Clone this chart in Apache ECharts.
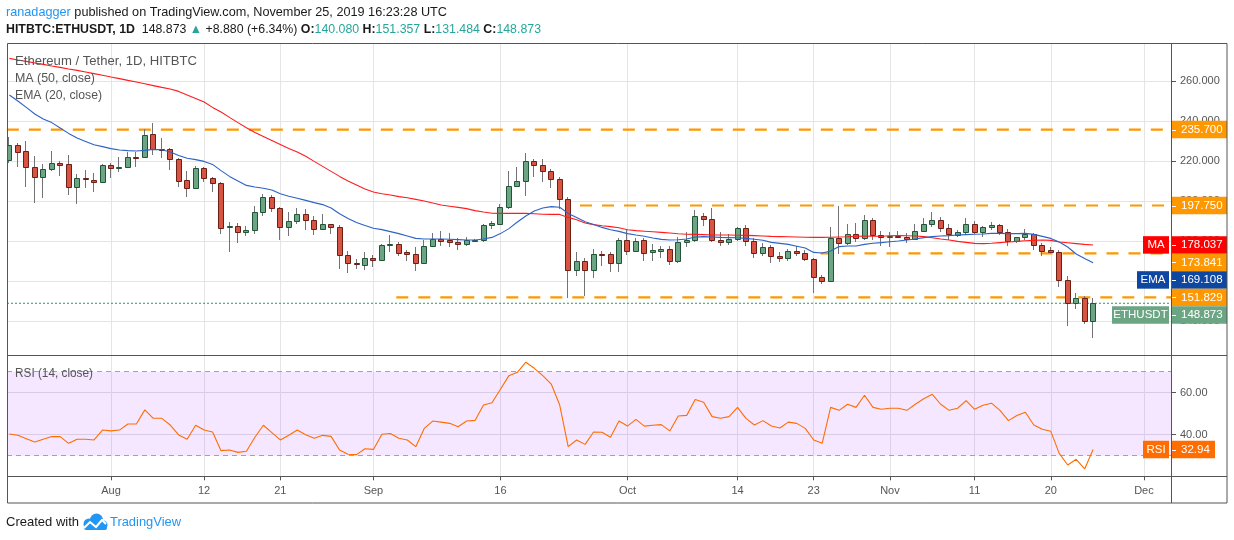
<!DOCTYPE html>
<html><head><meta charset="utf-8">
<script src="https://cdn.jsdelivr.net/npm/echarts@6/dist/echarts.min.js"></script>
<style>html,body{margin:0;padding:0;background:#fff}#c{width:1234px;height:540px}</style>
</head><body><div id="c"></div>
<script>
// ---------------- data ----------------
const startDate = '2019-07-20';
const opens = [220.5,228,225,217.2,212.2,215.8,218.8,218.3,207,211.5,
 210.3,209.3,218,216.3,217.2,222.2,221.8,233.3,226.2,225.8,
 220.8,210.3,206.3,216.3,211.3,208.8,186.8,187.7,184.7,185.3,
 194.3,201.8,196.3,186.8,189.8,193.3,190.3,185.8,188.3,186.8,
 172.8,169,167.8,171.3,170.3,177.8,178.5,174.3,173.3,168.8,
 177.3,180.8,180.3,179.3,178.3,180,180.5,187.8,188.7,196.8,
 207.3,210,220,217.8,214.8,210.8,200.8,165.3,169.8,165.3,
 173.7,173.3,168.8,180.5,175.2,180.5,174.3,175.2,176,170,
 179.3,180.5,192.3,191,180.3,179.3,181,186.3,180,173.8,
 176.8,172.3,171.3,174.8,173.8,170.8,161.8,159.8,181.3,178.8,
 183.3,181.3,190.3,183,182,182.7,182.2,181.2,185.2,188.3,
 190.3,186.3,183.2,184.3,188.3,184.3,186.8,187.8,184.3,179.8,
 181.8,183.3,177.8,175.5,174.3,160.3,148.8,151.3,140.08];
const highs = [232,228.9,230,222.3,218.3,225,220,223,213.3,215.5,
 213.8,218.5,219.2,222.2,224.7,224.7,236,238.8,231.3,226.7,
 221.7,215,217.5,217.2,212.2,209.7,189.3,188.8,187.7,197.7,
 203.5,203,197.2,194.7,196.3,195.8,192.7,193.5,188.5,188,
 175,170.8,174.3,173,178.3,183,179.7,175.3,177.2,180.3,
 184,185.2,184.2,181.3,181.8,180.8,188.3,190.2,198.3,215,
 217.2,224.2,221,221,216,212,202.2,174.5,171.3,176,
 175,174.5,181.3,185.5,181.5,181.7,178.3,177.3,177.3,182.2,
 184.3,195.5,193.8,196.7,184.3,183.7,187.2,188,181.7,179.2,
 178,174.3,176,177.3,175.3,171.7,163.2,187.2,197.5,188.3,
 188.8,193,191.5,185,184.5,185,183.8,188.3,191.3,194.3,
 192,188.5,185.5,191.5,190,187.5,189.3,188.5,186.2,182.2,
 186,184,179,176.8,175.5,162.5,153.8,152.5,151.357];
const lows = [219,217.2,207,199,201.7,215,212.7,203,198.7,206.7,
 204.7,209,211.3,214.7,216.7,217.2,221.7,223,221.3,215.5,
 207.2,202.2,206,209.5,204.3,183.3,174.7,178.8,182.7,183.3,
 192.7,194.5,180.5,182.7,188.5,185.5,183,185.5,183.5,166,
 163.8,165.8,165.5,167,169.8,174.7,172.5,169.8,165,168.5,
 176.8,177.5,177,175.5,177.3,179.5,179.5,185.8,187.8,196,
 207,202.7,212.2,209.5,206.7,196,151.7,162.5,152.7,161.3,
 167.7,164.3,164.7,173,175,170,170,171.7,168,168.8,
 177.2,179.3,187.7,179.7,177.7,178,180,177.7,171.7,172.3,
 169,169.5,169.8,172.3,169.8,153.8,158.7,159.3,173.3,178,
 179.7,180.5,180.5,177.5,177,181.7,179,180.8,184.3,187.2,
 184.5,180.5,182,183.5,183.5,182,185.3,183,177.7,178.8,
 180.5,175.3,172.3,173.8,156.8,137.5,145.8,138.5,131.484];
const closes = [228,224.7,217.2,212.2,215.8,218.8,218.2,207,211.3,210.8,
 209.3,218,216.3,217,221.8,221.7,233,225.8,225.7,220.8,
 210.2,206.3,216.3,211.3,208.8,186.3,187.7,184.7,185.3,194.3,
 201.8,196.3,186.8,189.8,193.3,190.3,185.8,188.3,186.8,172.8,
 168.8,168.3,171.3,170.3,178,178.5,174.2,173.3,168.8,177.3,
 180.8,180.2,179.3,178.3,180.3,180.5,187.8,188.8,196.8,207.3,
 210,220,218,214.8,210.8,200.8,165.3,169.8,165.3,173.3,
 173,168.8,180.5,175.2,180,174.2,175.3,176,170,179.3,
 180.5,192.3,191,180.3,179.3,181,186.3,180,173.8,176.8,
 172.3,171.3,175,173.8,170.8,161.8,159.8,181.3,178.8,183.3,
 181.3,190.3,183,182,182.7,182.2,180.8,185.2,188.3,190.3,
 186.3,183.3,184.3,188.3,184.3,186.8,187.8,184.3,179.8,181.8,
 183.3,177.8,175.2,174.3,160.3,148.8,151.3,139.8,148.873];
const ma50 = [271.3,270.5,269.8,269,268.3,267.5,266.8,266,265.3,264.5,
 263.7,262.9,262,261.2,260.3,259.5,258.6,257.7,256.8,256,
 254.8,253,251.3,249.5,246.8,244.5,241.8,239.2,236.6,234.3,
 232.3,230.3,228.3,226.3,224.5,222.4,219.8,217.3,214.8,212.3,
 210,208,206,204.5,203.6,203,202.2,201.6,200.8,200,
 199,198,197.4,196.8,196.2,195.2,194.5,193.9,193.8,193.8,
 193.8,193.8,193.6,193.4,193.3,193.3,191.8,190.6,189,188.2,
 187.6,187.2,186.6,185.6,185.2,184.9,184.6,184.3,184,183.6,
 183.4,183.3,183.2,183,183,183,182.9,182.8,182.7,182.5,
 182.3,182.2,182.1,182,181.9,181.8,181.8,181.9,182,182.1,
 182.4,182.5,182.4,182.4,182.6,182.7,182.6,182.5,182.2,181.6,
 181,180.5,179.8,179.3,178.8,178.7,178.9,179.2,179.5,179.8,
 180.1,180.3,180.5,180.3,179.5,179.1,178.7,178.3,178.037];
const ema20 = [253,250,246.8,243.5,241,239.2,236.5,233.8,231.5,229.8,
 228.1,227.2,226.2,225.5,225.2,225,225.3,225.8,225.6,224.5,
 222.8,221.4,220.7,219.8,218.3,215.2,212.3,210,207.8,207,
 206.4,205.5,203.6,202.4,201.4,200.3,199.2,198.2,196.5,193.6,
 191.3,189.3,187.8,186.4,185.7,184.7,183.7,182.5,181.3,181,
 181,181,180.9,180.7,180.5,180.5,181,181.8,183.7,186.2,
 189.5,192.5,195,196.5,197.2,196.9,193.8,191.8,189.6,188.2,
 186.8,185.6,184.8,183.7,183,182.4,181.5,180.8,180.5,180.6,
 181,182,182.2,182,181.8,181.7,181.6,181.3,180.9,180.4,
 179.3,178.8,178.3,177.4,176.5,174.3,174,175,177.2,177.5,
 177.5,178.3,178.9,179.2,179.6,180,180.5,181,181.7,182.2,
 182.5,182.7,183,183.2,183.4,183.5,183.8,183.8,183.7,183.7,
 183.8,183.3,182.3,181.3,179.5,177,173.5,171.2,169.108];
const rsi14 = [40.3,39.7,38.1,36.5,37.8,39.1,39.1,35.9,37.8,37.8,
 37.5,42.2,41.8,42.2,45.1,45.1,51.8,47.8,47.8,44.6,
 39.9,37.8,44.5,42.2,41.3,32.4,32.7,31.6,32.1,38.8,
 44.5,41.0,37.5,39.7,42.2,40.0,38.3,39.7,39.2,32.7,
 30.7,30.5,33.3,33.0,40.2,40.6,38.3,37.5,34.3,43.0,
 46.5,46.0,45.4,43.8,46.5,46.8,54.1,55.2,61.6,68.1,
 69.7,74.5,71.6,68.1,64.1,54.1,34.3,37.5,35.4,41.3,
 41.2,38.8,46.5,44.1,47.3,44.1,44.5,44.8,41.8,48.9,
 49.2,56.8,55.4,48.6,47.8,48.6,53.0,47.8,44.6,46.7,
 44.1,43.2,46.0,45.4,43.0,37.5,35.9,53.0,51.6,54.5,
 53.0,58.8,53.0,52.1,52.6,52.6,51.6,54.5,57.1,59.2,
 54.5,51.6,52.6,56.2,52.1,54.0,55.0,51.6,46.7,49.1,
 50.7,44.6,42.6,41.6,31.1,25.6,28.3,23.7,32.94];
const tickDates = ['2019-08-01','2019-08-12','2019-08-21','2019-09-01','2019-09-16','2019-10-01','2019-10-14','2019-10-23','2019-11-01','2019-11-11','2019-11-20','2019-12-01'];
const tickLabels = ['Aug','12','21','Sep','16','Oct','14','23','Nov','11','20','Dec'];
const priceTicks = [140,160,180,200,220,240,260];
const rsiTicks = [40,60];
const levelValues = [235.7, 197.75, 173.841, 151.829];
const levelStarts = [-0.3, 67.4, 95.8, 45.7];   // day index where each drawn level begins
const lastPrice = 148.873;
const lastMA = 178.037, lastEMA = 169.108, lastRSI = 32.94;

// ---------------- setup ----------------
const FONT = '"Liberation Sans", Arial, sans-serif';
const chart = echarts.init(document.getElementById('c'), null, {renderer: 'canvas'});
const DAY = 86400000;
const t0 = Date.parse(startDate + 'T00:00:00Z');
const tickIdx = tickDates.map(d => Math.round((Date.parse(d + 'T00:00:00Z') - t0) / DAY));
const labelMap = {};
tickIdx.forEach((v, k) => { labelMap[v] = tickLabels[k]; });
const xMin = -0.28, xMax = 137.2;
const candleData = closes.map((c, i) => [i, opens[i], highs[i], lows[i], c]);
const pairs = arr => arr.map((v, i) => [i, v]);

function renderCandle(params, api) {
  const i = api.value(0), o = api.value(1), h = api.value(2), l = api.value(3), c = api.value(4);
  const pO = api.coord([i, o]), pC = api.coord([i, c]);
  const pH = api.coord([i, h]), pL = api.coord([i, l]);
  const cx = Math.round(pO[0]);
  const up = c >= o;
  const yTop = Math.round(Math.min(pO[1], pC[1]));
  const yBot = Math.round(Math.max(pO[1], pC[1]));
  const hh = Math.max(yBot - yTop, 1);
  return {
    type: 'group',
    children: [
      {type: 'line', shape: {x1: cx - 0.5, y1: Math.round(pH[1]), x2: cx - 0.5, y2: Math.round(pL[1])},
       style: {stroke: '#737375', lineWidth: 1}},
      {type: 'rect', shape: {x: cx - 2.5, y: yTop + 0.5, width: 5, height: hh},
       style: {fill: up ? '#6ba583' : '#d75442', stroke: up ? '#225437' : '#6b1f15', lineWidth: 1}}
    ]
  };
}

const levelSeries = levelValues.map((v, k) => ({
  type: 'line', xAxisIndex: 0, yAxisIndex: 0, symbol: 'none', silent: true, z: 3,
  data: [[levelStarts[k], v], [xMax, v]],
  lineStyle: {color: '#ff9800', width: 2.2, type: [12, 10]}
}));

const option = {
  animation: false,
  backgroundColor: '#fff',
  grid: [
    {left: 7, top: 43, width: 1164, height: 312.7},
    {left: 7, top: 355.7, width: 1164, height: 120.6}
  ],
  xAxis: [
    {type: 'value', gridIndex: 0, min: xMin, max: xMax,
     axisLine: {show: false, onZero: false},
     axisTick: {show: false, customValues: tickIdx},
     axisLabel: {show: false, customValues: tickIdx},
     splitLine: {show: true, lineStyle: {color: '#e5e5e5', width: 1}}},
    {type: 'value', gridIndex: 1, min: xMin, max: xMax,
     axisLine: {show: false, onZero: false},
     axisTick: {show: true, customValues: tickIdx, length: 4, lineStyle: {color: '#555'}},
     axisLabel: {customValues: tickIdx, formatter: v => labelMap[Math.round(v)] || '',
                 color: '#555', fontSize: 11, fontFamily: FONT, margin: 9},
     splitLine: {show: true, lineStyle: {color: '#e5e5e5', width: 1}}}
  ],
  yAxis: [
    {type: 'value', gridIndex: 0, position: 'right', min: 122.65, max: 279,
     axisLine: {show: false, onZero: false},
     axisTick: {show: true, customValues: priceTicks, length: 5, lineStyle: {color: '#555'}},
     axisLabel: {customValues: priceTicks, formatter: v => v.toFixed(3),
                 color: '#555', fontSize: 11, fontFamily: FONT, margin: 9},
     splitLine: {show: true, lineStyle: {color: '#e5e5e5', width: 1}}},
    {type: 'value', gridIndex: 1, position: 'right', min: 20.2, max: 77.6,
     axisLine: {show: false, onZero: false},
     axisTick: {show: true, customValues: rsiTicks, length: 5, lineStyle: {color: '#555'}},
     axisLabel: {customValues: rsiTicks, formatter: v => v.toFixed(2),
                 color: '#555', fontSize: 11, fontFamily: FONT, margin: 9},
     splitLine: {show: true, lineStyle: {color: '#e0e0e0', width: 1}}}
  ],
  series: [
    ...levelSeries,
    {type: 'line', xAxisIndex: 0, yAxisIndex: 0, symbol: 'none', silent: true, z: 3,
     data: [[xMin, lastPrice], [xMax, lastPrice]],
     lineStyle: {color: '#2f9461', width: 1, type: [2, 2]}},
    {type: 'custom', name: 'ETHUSDT', xAxisIndex: 0, yAxisIndex: 0, clip: true, z: 4,
     renderItem: renderCandle, encode: {x: 0, y: [1, 2, 3, 4]}, data: candleData},
    {type: 'line', name: 'MA', xAxisIndex: 0, yAxisIndex: 0, symbol: 'none', silent: true, z: 5,
     data: pairs(ma50), lineStyle: {color: '#ff1c1c', width: 1.1}},
    {type: 'line', name: 'EMA', xAxisIndex: 0, yAxisIndex: 0, symbol: 'none', silent: true, z: 5,
     data: pairs(ema20), lineStyle: {color: '#2d62c6', width: 1.1}},
    {type: 'line', name: 'RSI', xAxisIndex: 1, yAxisIndex: 1, symbol: 'none', silent: true, z: 5,
     data: pairs(rsi14), lineStyle: {color: '#ff6d00', width: 1.1},
     markArea: {silent: true, itemStyle: {color: 'rgba(153,21,255,0.1)'},
                data: [[{yAxis: 30}, {yAxis: 70}]]},
     markLine: {silent: true, symbol: 'none', label: {show: false},
                lineStyle: {color: '#a69fb0', width: 1, type: [5, 4]},
                data: [{yAxis: 70}, {yAxis: 30}]}}
  ]
};
chart.setOption(option);

// ---------------- texts / frame / price tags ----------------
const mctx = document.createElement('canvas').getContext('2d');
function fontStr(size, bold) { return (bold ? 'bold ' : '') + size + 'px ' + FONT; }
function segText(segs, x0, x1, y, size) {
  let total = 0;
  const ws = segs.map(s => { mctx.font = fontStr(size, s.b); const w = mctx.measureText(s.t).width; total += w; return w; });
  const f = (x1 - x0) / total;
  const out = [];
  let x = x0;
  segs.forEach((s, k) => {
    out.push({type: 'text', x: x, y: y, scaleX: f, z: 120,
      style: {text: s.t, fill: s.c || '#1a1a1a', font: fontStr(size, s.b),
              textVerticalAlign: 'middle', verticalAlign: 'middle', textAlign: 'left', align: 'left'}});
    x += ws[k] * f;
  });
  return out;
}

function build() {
  const g = [];
  const teal = '#26a69a';
  g.push(...segText([{t: 'ranadagger', c: '#2196f3'},
    {t: ' published on TradingView.com, November 25, 2019 16:23:28 UTC'}], 6, 447, 12, 13));
  g.push(...segText([{t: 'HITBTC:ETHUSDT, 1D', b: true}, {t: '  148.873 '}, {t: '\u25B2', c: teal},
    {t: ' +8.880 (+6.34%) '}, {t: 'O:', b: true}, {t: '140.080', c: teal}, {t: ' H:', b: true},
    {t: '151.357', c: teal}, {t: ' L:', b: true}, {t: '131.484', c: teal}, {t: ' C:', b: true},
    {t: '148.873', c: teal}], 6, 541, 29, 13));
  g.push(...segText([{t: 'Ethereum / Tether, 1D, HITBTC', c: '#555'}], 15, 197, 61, 13));
  g.push(...segText([{t: 'MA (50, close)', c: '#555'}], 15, 95, 78, 13));
  g.push(...segText([{t: 'EMA (20, close)', c: '#555'}], 15, 102, 95, 13));
  g.push(...segText([{t: 'RSI (14, close)', c: '#555'}], 15, 93, 373, 13));
  g.push(...segText([{t: 'Created with'}], 6, 79, 522, 13));
  g.push(...segText([{t: 'TradingView', c: '#2196f3'}], 110, 181, 522, 13));
  // logo
  g.push({type: 'group', z: 120, children: [
    {type: 'circle', shape: {cx: 89, cy: 524, r: 5.5}, style: {fill: '#2196f3'}},
    {type: 'circle', shape: {cx: 96.5, cy: 520, r: 6.5}, style: {fill: '#2196f3'}},
    {type: 'circle', shape: {cx: 103, cy: 525, r: 4.5}, style: {fill: '#2196f3'}},
    {type: 'rect', shape: {x: 84, y: 524, width: 23, height: 6, r: 2}, style: {fill: '#2196f3'}},
    {type: 'polyline', shape: {points: [[84, 528], [90, 522], [96, 527], [102, 520], [106, 524]]},
     style: {stroke: '#fff', lineWidth: 2, fill: null}}
  ]});

  // frame
  const fr = '#555';
  g.push({type: 'rect', z: 110, shape: {x: 7.5, y: 43.5, width: 1219.5, height: 459.5},
          style: {fill: null, stroke: fr, lineWidth: 1}});
  g.push({type: 'line', z: 110, shape: {x1: 7, y1: 355.5, x2: 1227, y2: 355.5}, style: {stroke: fr, lineWidth: 1}});
  g.push({type: 'line', z: 110, shape: {x1: 7, y1: 476.5, x2: 1227, y2: 476.5}, style: {stroke: fr, lineWidth: 1}});
  g.push({type: 'line', z: 110, shape: {x1: 1171.5, y1: 43, x2: 1171.5, y2: 503}, style: {stroke: fr, lineWidth: 1}});

  // price tags
  const yOf = v => chart.convertToPixel({gridIndex: 0}, [0, v])[1];
  const tags = [
    {v: levelValues[0], c: '#ff9800'},
    {v: levelValues[1], c: '#ff9800'},
    {v: lastMA, c: '#ff0000', name: 'MA', w: 26},
    {v: levelValues[2], c: '#ff9800'},
    {v: lastEMA, c: '#0d47a1', name: 'EMA', w: 32},
    {v: levelValues[3], c: '#ff9800'},
    {v: lastPrice, c: '#6ba583', name: 'ETHUSDT', w: 57}
  ];
  const H = 17.5;
  tags.forEach(t => { t.y = yOf(t.v); });
  tags.sort((a, b) => a.y - b.y);
  for (let k = 1; k < tags.length; k++) {
    if (tags[k].y < tags[k - 1].y + H) tags[k].y = tags[k - 1].y + H;
  }
  function tag(yc, color, text, name, w, x1) {
    const top = yc - H / 2;
    g.push({type: 'rect', z: 105, shape: {x: 1171, y: top, width: x1 - 1171, height: H}, style: {fill: color}});
    g.push({type: 'line', z: 106, shape: {x1: 1172, y1: Math.round(yc) + 0.5, x2: 1176, y2: Math.round(yc) + 0.5},
            style: {stroke: '#fff', lineWidth: 1}});
    g.push({type: 'text', z: 106, x: 1181, y: yc,
            style: {text: text, fill: '#fff', font: fontStr(11.5, false), textVerticalAlign: 'middle',
                    verticalAlign: 'middle', textAlign: 'left', align: 'left'}});
    if (name) {
      g.push({type: 'rect', z: 105, shape: {x: 1169 - w, y: top, width: w, height: H}, style: {fill: color}});
      g.push({type: 'text', z: 106, x: 1169 - w / 2, y: yc,
              style: {text: name, fill: '#fff', font: fontStr(11.5, false), textVerticalAlign: 'middle',
                      verticalAlign: 'middle', textAlign: 'center', align: 'center'}});
    }
  }
  tags.forEach(t => tag(t.y, t.c, t.v.toFixed(3), t.name, t.w, 1227));
  const yR = chart.convertToPixel({gridIndex: 1}, [0, lastRSI])[1];
  tag(yR, '#ff6d00', lastRSI.toFixed(2), 'RSI', 26, 1215);
  return g;
}
chart.setOption({graphic: build()});
</script>
</body></html>
